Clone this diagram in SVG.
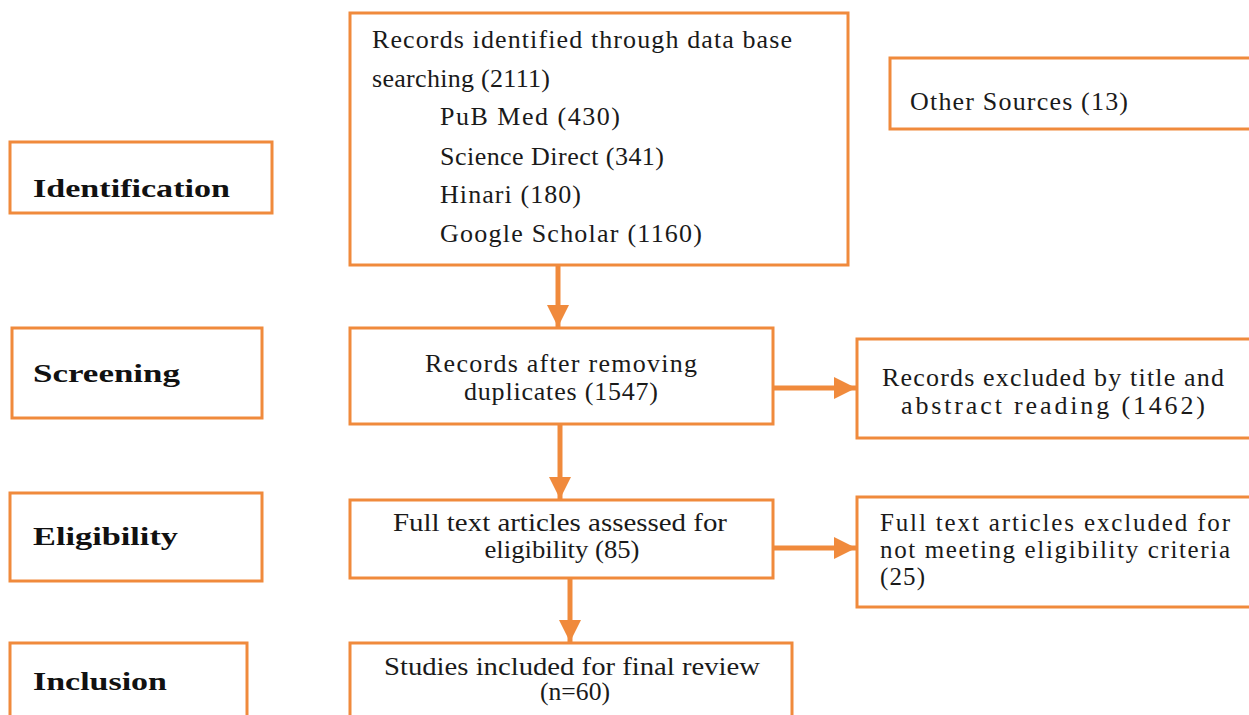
<svg xmlns="http://www.w3.org/2000/svg" width="1249" height="715" viewBox="0 0 1249 715">
  <style>
    .box { fill: #ffffff; stroke: #F08A3C; stroke-width: 3; }
    .t { fill: #1a1a1a; }
    .stage { font-weight: bold; fill: #111111; }
    .c { text-anchor: middle; }
    .conn { stroke: #F08A3C; stroke-width: 5; fill: none; }
  </style>
  <defs>
    <marker id="arrow" viewBox="0 0 10 10" refX="10" refY="5" markerWidth="4.4" markerHeight="4.4" orient="auto" markerUnits="strokeWidth">
      <path d="M0,0 L10,5 L0,10 Z" fill="#F08A3C"/>
    </marker>
  </defs>
  <rect width="1249" height="715" fill="#ffffff"/>

  <!-- stage labels (left column) -->
  <g font-family="Liberation Serif, Times New Roman, serif" font-size="25">
    <g id="stage-identification">
      <rect class="box" x="10" y="142" width="262" height="71"/>
      <text class="stage" x="33" y="197" textLength="197" lengthAdjust="spacingAndGlyphs">Identification</text>
    </g>
    <g id="stage-screening">
      <rect class="box" x="12" y="328" width="250" height="90"/>
      <text class="stage" x="33" y="382" textLength="147" lengthAdjust="spacingAndGlyphs">Screening</text>
    </g>
    <g id="stage-eligibility">
      <rect class="box" x="10" y="493" width="252" height="88"/>
      <text class="stage" x="33" y="545" textLength="145" lengthAdjust="spacingAndGlyphs">Eligibility</text>
    </g>
    <g id="stage-inclusion">
      <rect class="box" x="10" y="643" width="237" height="80"/>
      <text class="stage" x="33" y="690" textLength="134" lengthAdjust="spacingAndGlyphs">Inclusion</text>
    </g>
  </g>

  <!-- flow boxes -->
  <g font-family="Liberation Serif, Times New Roman, serif" font-size="26">
    <g id="identified">
      <rect class="box" x="350" y="13" width="498" height="252"/>
      <text class="t" x="372" y="48" textLength="420" lengthAdjust="spacing">Records identified through data base</text>
      <text class="t" x="372" y="87" textLength="178" lengthAdjust="spacing">searching (2111)</text>
      <text class="t" x="440" y="125" textLength="180" lengthAdjust="spacing">PuB Med (430)</text>
      <text class="t" x="440" y="165" textLength="224" lengthAdjust="spacing">Science Direct (341)</text>
      <text class="t" x="440" y="203" textLength="141" lengthAdjust="spacing">Hinari (180)</text>
      <text class="t" x="440" y="242" textLength="262" lengthAdjust="spacing">Google Scholar (1160)</text>
    </g>
    <g id="other-sources">
      <rect class="box" x="890" y="58" width="370" height="71"/>
      <text class="t" x="910" y="110" textLength="218" lengthAdjust="spacing">Other Sources (13)</text>
    </g>
    <g id="deduplicated">
      <rect class="box" x="350" y="328" width="423" height="96"/>
      <text class="t c" x="561" y="372" textLength="272" lengthAdjust="spacing">Records after removing</text>
      <text class="t c" x="561" y="400" textLength="194" lengthAdjust="spacing">duplicates (1547)</text>
    </g>
    <g id="excluded-title">
      <rect class="box" x="857" y="339" width="400" height="99"/>
      <text class="t c" x="1053" y="386" textLength="342" lengthAdjust="spacing">Records excluded by title and</text>
      <text class="t c" x="1053" y="414" textLength="304" lengthAdjust="spacing">abstract reading (1462)</text>
    </g>
  </g>
  <g font-family="Liberation Serif, Times New Roman, serif" font-size="25">
    <g id="assessed">
      <rect class="box" x="350" y="500" width="423" height="78"/>
      <text class="t c" x="560" y="531" textLength="334" lengthAdjust="spacingAndGlyphs">Full text articles assessed  for</text>
      <text class="t c" x="562" y="558" textLength="155" lengthAdjust="spacingAndGlyphs">eligibility (85)</text>
    </g>
    <g id="excluded-fulltext">
      <rect class="box" x="857" y="497" width="400" height="110"/>
      <text class="t" x="880" y="531" textLength="350" lengthAdjust="spacing">Full text articles excluded for</text>
      <text class="t" x="880" y="558" textLength="350" lengthAdjust="spacing">not meeting eligibility criteria</text>
      <text class="t" x="880" y="585" textLength="45" lengthAdjust="spacing">(25)</text>
    </g>
    <g id="included">
      <rect class="box" x="350" y="643" width="442" height="80"/>
      <text class="t c" x="572" y="675" textLength="376" lengthAdjust="spacingAndGlyphs">Studies included for final review</text>
      <text class="t c" x="575" y="700" textLength="70" lengthAdjust="spacingAndGlyphs">(n=60)</text>
    </g>
  </g>

  <!-- connectors -->
  <g id="connectors">
    <line class="conn" x1="558" y1="266" x2="558" y2="327" marker-end="url(#arrow)"/>
    <line class="conn" x1="560" y1="425" x2="560" y2="499" marker-end="url(#arrow)"/>
    <line class="conn" x1="774" y1="388" x2="856" y2="388" marker-end="url(#arrow)"/>
    <line class="conn" x1="774" y1="548" x2="856" y2="548" marker-end="url(#arrow)"/>
    <line class="conn" x1="570" y1="579" x2="570" y2="642" marker-end="url(#arrow)"/>
  </g>
</svg>
